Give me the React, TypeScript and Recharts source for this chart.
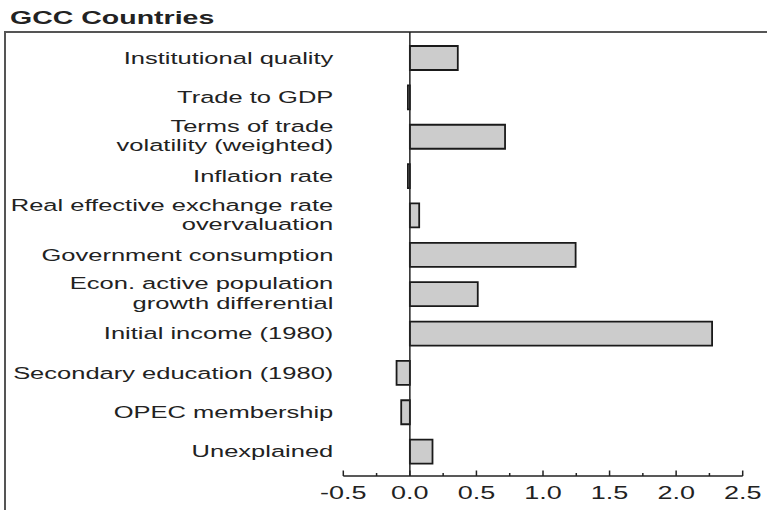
import React from "react";
import { BarChart, Bar, XAxis, YAxis, ReferenceLine } from "recharts";

const categories: string[] = [
  "Institutional quality",
  "Trade to GDP",
  "Terms of trade\nvolatility (weighted)",
  "Inflation rate",
  "Real effective exchange rate\novervaluation",
  "Government consumption",
  "Econ. active population\ngrowth differential",
  "Initial income (1980)",
  "Secondary education (1980)",
  "OPEC membership",
  "Unexplained",
];

const contributions: number[] = [0.36, -0.015, 0.715, -0.015, 0.07, 1.245, 0.51, 2.27, -0.1, -0.065, 0.17];

const xTicks: number[] = [-0.5, -0.25, 0, 0.25, 0.5, 0.75, 1, 1.25, 1.5, 1.75, 2, 2.25, 2.5];

const title = "GCC Countries";

const data = categories.map((name, i) => ({ name, value: contributions[i] }));

const FONT = "'Liberation Sans', Arial, Helvetica, sans-serif";
const SX = 1.5;
const INK = "#222";

const YTick = (props: any) => {
  const { x, y, payload } = props;
  const lines: string[] = String(payload.value).split("\n");
  const lh = 19.5;
  const start = -((lines.length - 1) * lh) / 2 - (lines.length > 1 ? 1 : 0);
  return (
    <g transform={`translate(${x},${y}) scale(${SX},1)`}>
      {lines.map((ln, i) => (
        <text
          key={i}
          x={0}
          y={start + i * lh}
          dy="0.36em"
          textAnchor="end"
          fontSize={17}
          fontFamily={FONT}
          fill={INK}
        >
          {ln}
        </text>
      ))}
    </g>
  );
};

const XTick = (props: any) => {
  const { x, y, payload } = props;
  const v: number = payload.value;
  const major = Math.abs(v * 2 - Math.round(v * 2)) < 1e-6;
  return (
    <g>
      <line x1={x} x2={x} y1={y} y2={y - (major ? 5.5 : 3)} stroke={INK} strokeWidth={1.5} />
      {major && (
        <text
          transform={`translate(${x},${y + 23}) scale(${SX},1)`}
          textAnchor="middle"
          fontSize={18}
          fontFamily={FONT}
          fill={INK}
        >
          {v.toFixed(1)}
        </text>
      )}
    </g>
  );
};

export default function App() {
  return (
    <div
      style={{
        position: "absolute",
        left: 0,
        top: 0,
        width: 767,
        height: 510,
        overflow: "hidden",
        background: "#fff",
      }}
    >
      <div
        style={{
          position: "absolute",
          left: 4,
          top: 31,
          width: 800,
          height: 520,
          borderTop: "2px solid #555",
          borderLeft: "2px solid #555",
        }}
      />
      <svg width={767} height={30} style={{ position: "absolute", left: 0, top: 0 }}>
        <text
          transform={`translate(10,24) scale(${SX},1)`}
          fontSize={19}
          fontWeight="bold"
          fontFamily={FONT}
          fill={INK}
        >
          {title}
        </text>
      </svg>
      <div style={{ position: "absolute", left: 0, top: 0 }}>
        <BarChart
          width={767}
          height={510}
          data={data}
          layout="vertical"
          margin={{ top: 32, right: 24.3, bottom: 0, left: 8 }}
          barSize={24}
        >
          <XAxis
            type="number"
            domain={[-0.5, 2.5]}
            ticks={xTicks}
            interval={0}
            height={34}
            tickSize={0}
            tickMargin={0}
            tickLine={false}
            axisLine={{ stroke: INK, strokeWidth: 1.5 }}
            tick={<XTick />}
            allowDataOverflow
          />
          <YAxis
            type="category"
            dataKey="name"
            width={335.3}
            interval={0}
            tickSize={0}
            tickMargin={10}
            tickLine={false}
            axisLine={false}
            padding={{ top: 6, bottom: 5 }}
            tick={<YTick />}
          />
          <Bar
            dataKey="value"
            fill="#cccccc"
            stroke="#1a1a1a"
            strokeWidth={1.8}
            isAnimationActive={false}
          />
          <ReferenceLine x={0} stroke={INK} strokeWidth={1.5} />
        </BarChart>
      </div>
    </div>
  );
}
